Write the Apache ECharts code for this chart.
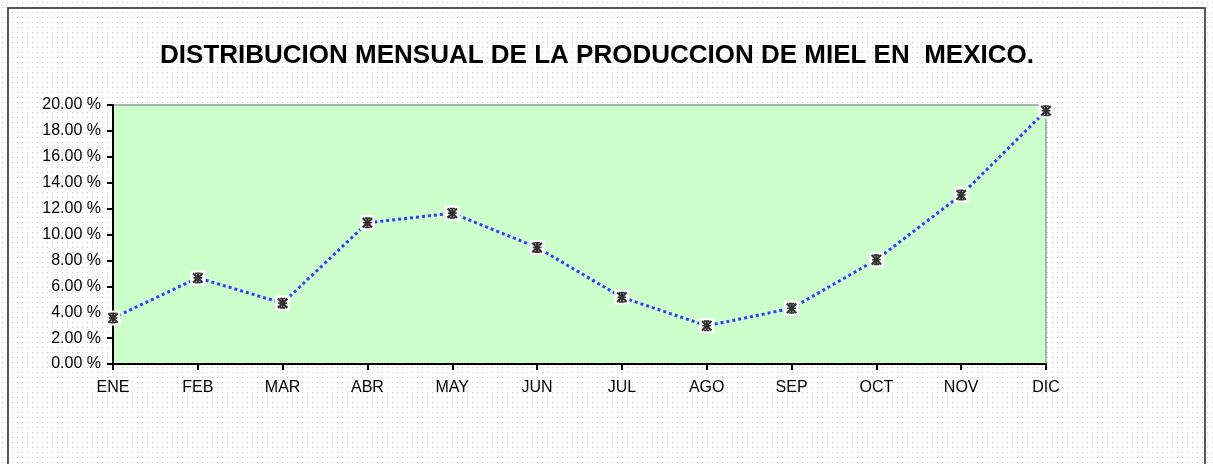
<!DOCTYPE html>
<html>
<head>
<meta charset="UTF-8">
<title>Produccion de miel</title>
<script src="https://cdn.jsdelivr.net/npm/echarts@6/dist/echarts.min.js"></script>
<style>html,body{margin:0;padding:0;background:#fff;} #chart{width:1213px;height:464px;}</style>
</head>
<body>
<div id="chart"></div>
<script>
var meses = ['ENE', 'FEB', 'MAR', 'ABR', 'MAY', 'JUN', 'JUL', 'AGO', 'SEP', 'OCT', 'NOV', 'DIC'];
// porcentaje de la produccion anual por mes
var produccion = [3.55, 6.65, 4.7, 10.9, 11.65, 9.0, 5.15, 2.95, 4.3, 8.05, 13.05, 19.55];

// fondo punteado
var dots = document.createElement('canvas');
dots.width = 5; dots.height = 5;
var ctx = dots.getContext('2d');
ctx.fillStyle = '#c8c8c8';
ctx.fillRect(2, 2, 1, 1);

// asterisco tipo excel
var asterisco = 'path://M4,0 L6,0 L6,10 L4,10 Z M0,1.4 L1.4,0 L10,8.6 L8.6,10 Z M8.6,0 L10,1.4 L1.4,10 L0,8.6 Z M2.5,0 L7.5,0 L7.5,1.5 L2.5,1.5 Z M2.5,8.5 L7.5,8.5 L7.5,10 L2.5,10 Z M1,4.3 L9,4.3 L9,5.7 L1,5.7 Z';

var myChart = echarts.init(document.getElementById('chart'));
var option = {
    backgroundColor: '#fff',
    animation: false,
    graphic: [
        {type: 'rect', z: -10, silent: true, shape: {x: 0, y: 0, width: 1213, height: 464},
         style: {fill: {image: dots, repeat: 'repeat'}}},
        {type: 'rect', z: -9, silent: true, shape: {x: 8, y: 8, width: 1197, height: 470},
         style: {fill: 'none', stroke: '#222', lineWidth: 1.5}}
    ],
    title: {
        text: 'DISTRIBUCION MENSUAL DE LA PRODUCCION DE MIEL EN  MEXICO.',
        left: 592, textAlign: 'center',
        top: 38,
        textStyle: {fontFamily: 'Liberation Sans', fontWeight: 'bold', fontSize: 26, color: '#000'}
    },
    grid: {
        left: 113, right: 167, top: 105, bottom: 100,
        show: true, backgroundColor: '#ccffcc', borderColor: '#999', borderWidth: 1.5
    },
    xAxis: {
        type: 'category',
        data: meses,
        boundaryGap: false,
        axisLine: {lineStyle: {color: '#000', width: 2}},
        axisTick: {length: 6, lineStyle: {color: '#000', width: 2}},
        axisLabel: {margin: 16, color: '#000', fontFamily: 'Liberation Sans', fontSize: 16}
    },
    yAxis: {
        type: 'value',
        min: 0, max: 20, interval: 2,
        splitLine: {show: false},
        axisLine: {show: true, lineStyle: {color: '#000', width: 2}},
        axisTick: {show: true, length: 6, lineStyle: {color: '#000', width: 2}},
        axisLabel: {
            margin: 12, color: '#000', fontFamily: 'Liberation Sans', fontSize: 16,
            formatter: function (v) { return v.toFixed(2) + ' %'; }
        }
    },
    series: [
        {
            type: 'line',
            data: produccion,
            symbol: 'rect',
            symbolSize: 15,
            itemStyle: {color: '#fff', borderWidth: 0},
            lineStyle: {color: '#3a3aff', width: 3, type: 'dotted'},
            z: 2
        },
        {
            type: 'scatter',
            data: produccion,
            symbol: asterisco,
            symbolSize: 11,
            itemStyle: {color: '#000'},
            z: 3
        }
    ]
};
myChart.setOption(option);
</script>
</body>
</html>
